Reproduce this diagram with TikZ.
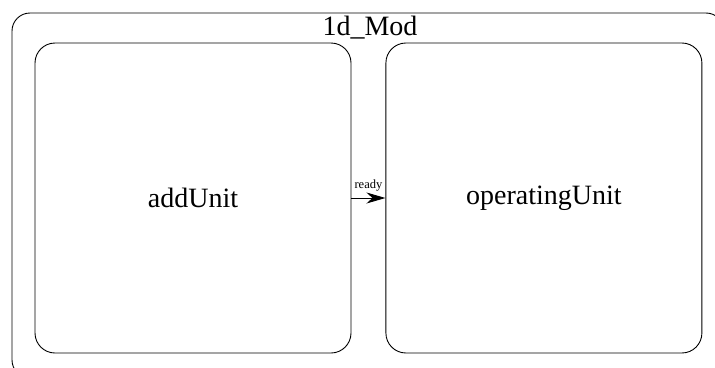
\documentclass[tikz,border=0pt]{standalone}
\usepackage{fontspec}
\setmainfont{Liberation Serif}
\usepackage{tikz}
\usetikzlibrary{arrows.meta,positioning}

\begin{document}
\begin{tikzpicture}[x=1pt,y=-1pt,node distance=34pt,
  unitbox/.style={draw,line width=0.9pt,rounded corners=20pt,minimum width=316pt,minimum height=310pt,font=\fontsize{28}{32}\selectfont},
  signal/.style={-{Stealth[length=19pt,width=11pt,inset=6pt]},line width=0.9pt}]
\useasboundingbox (0,0) rectangle (715,367);
\clip (0,0) rectangle (715,367);
\draw[line width=0.9pt,rounded corners=18pt] (12,13) rectangle (724,378);
\node[anchor=base,font=\fontsize{28}{32}\selectfont] (mod) at (370,35) {1d\_Mod};

\node[unitbox] (addUnit) at (193,198) {addUnit};
\node[unitbox] (operatingUnit) [right = of addUnit] {operatingUnit};

\draw[signal] (addUnit) -- node[above,font=\fontsize{12.5}{14}\selectfont,inner sep=6pt] {ready} (operatingUnit);
\end{tikzpicture}
\end{document}
